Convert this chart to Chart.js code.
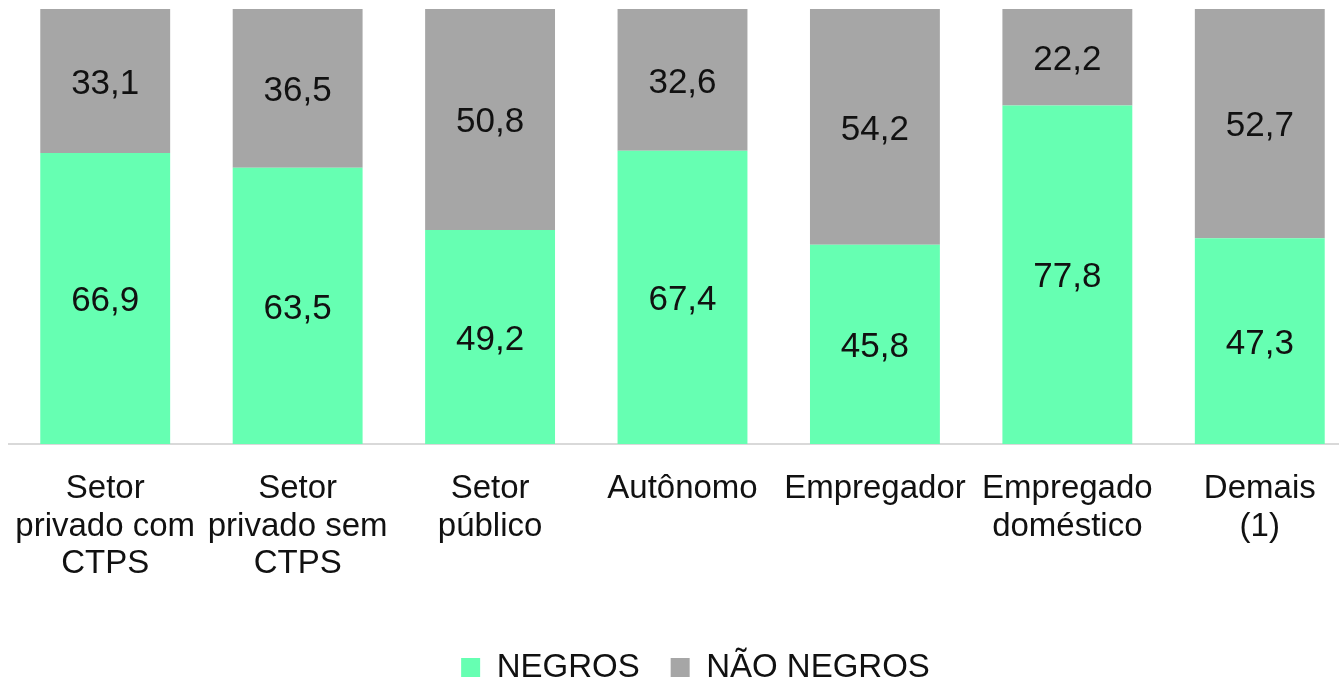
<!DOCTYPE html>
<html>
<head>
<meta charset="utf-8">
<script src="https://cdn.jsdelivr.net/npm/chart.js@4.4.1/dist/chart.umd.min.js"></script>
<style>
  html, body { margin: 0; padding: 0; background: #fff; overflow: hidden; }
  #wrap { position: relative; width: 1390px; height: 683px; }
</style>
</head>
<body>
<div id="wrap"><canvas id="chart"></canvas></div>
<script>
const categorias = [
    ['Setor', 'privado com', 'CTPS'],
    ['Setor', 'privado sem', 'CTPS'],
    ['Setor', 'público'],
    ['Autônomo'],
    ['Empregador'],
    ['Empregado', 'doméstico'],
    ['Demais', '(1)']
];
const negros = [66.9, 63.5, 49.2, 67.4, 45.8, 77.8, 47.3];
const naoNegros = [33.1, 36.5, 50.8, 32.6, 54.2, 22.2, 52.7];

const fonte = "'Liberation Sans', Arial, sans-serif";

// escreve o valor no meio de cada segmento
const rotulos = {
    id: 'rotulos',
    beforeDraw(chart) {
        // legenda centrada na largura toda, nao so na area util
        const lg = chart.legend;
        if (lg && !lg._deslocada) {
            lg.left += 13;
            lg.right += 13;
            lg._deslocada = true;
        }
    },
    afterDatasetsDraw(chart) {
        const ctx = chart.ctx;
        ctx.save();
        ctx.font = "35px " + fonte;
        ctx.fillStyle = '#111';
        ctx.textAlign = 'center';
        ctx.textBaseline = 'middle';
        chart.data.datasets.forEach(function (ds, i) {
            chart.getDatasetMeta(i).data.forEach(function (bar, j) {
                const p = bar.getProps(['x', 'y', 'base'], true);
                const txt = ds.data[j].toFixed(1).replace('.', ',');
                ctx.fillText(txt, p.x, (p.y + p.base) / 2 + 3);
            });
        });
        ctx.restore();
    }
};

new Chart(document.getElementById('chart'), {
    type: 'bar',
    data: {
        labels: categorias,
        datasets: [
            { label: 'NEGROS', data: negros, backgroundColor: '#66FFB2' },
            { label: 'NÃO NEGROS', data: naoNegros, backgroundColor: '#A6A6A6' }
        ]
    },
    options: {
        responsive: true,
        maintainAspectRatio: false,
        animation: false,
        layout: { padding: { left: 9, right: 34, top: 9, bottom: -11 } },
        datasets: { bar: { categoryPercentage: 1, barPercentage: 0.675 } },
        scales: {
            x: {
                stacked: true,
                grid: { display: false, drawTicks: false },
                border: { color: '#D9D9D9', width: 2 },
                ticks: {
                    color: '#111',
                    padding: 26,
                    maxRotation: 0,
                    autoSkip: false,
                    font: { family: fonte, size: 33, lineHeight: 1.14 }
                },
                afterFit: function (s) {
                    s.height = 176;
                    s.paddingLeft = 0;
                    s.paddingRight = 0;
                }
            },
            y: {
                stacked: true,
                display: false,
                min: 0,
                max: 100
            }
        },
        plugins: {
            legend: {
                position: 'bottom',
                labels: {
                    color: '#111',
                    boxWidth: 19,
                    boxHeight: 19,
                    padding: 31,
                    font: { family: fonte, size: 33 }
                }
            },
            tooltip: { enabled: false }
        }
    },
    plugins: [rotulos]
});
</script>
</body>
</html>
